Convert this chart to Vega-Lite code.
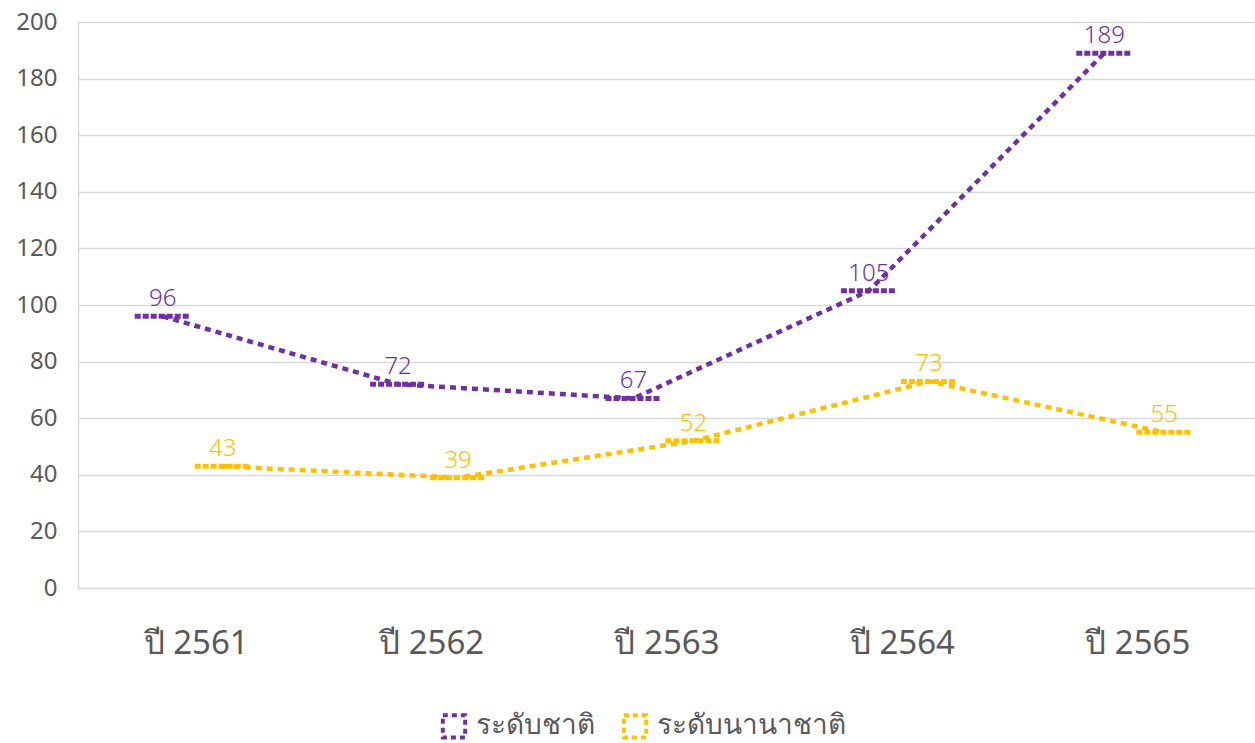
{
  "$schema": "https://vega.github.io/schema/vega-lite/v6.json",
  "width": 1177,
  "height": 566,
  "autosize": "none",
  "padding": {"left": 78, "top": 22, "right": 0, "bottom": 155},
  "config": {
    "view": {"stroke": null},
    "font": "Noto Sans"
  },
  "data": {
    "values": [
      {"year": "ปี 2561", "series": "ระดับชาติ", "value": 96},
      {"year": "ปี 2562", "series": "ระดับชาติ", "value": 72},
      {"year": "ปี 2563", "series": "ระดับชาติ", "value": 67},
      {"year": "ปี 2564", "series": "ระดับชาติ", "value": 105},
      {"year": "ปี 2565", "series": "ระดับชาติ", "value": 189},
      {"year": "ปี 2561", "series": "ระดับนานาชาติ", "value": 43},
      {"year": "ปี 2562", "series": "ระดับนานาชาติ", "value": 39},
      {"year": "ปี 2563", "series": "ระดับนานาชาติ", "value": 52},
      {"year": "ปี 2564", "series": "ระดับนานาชาติ", "value": 73},
      {"year": "ปี 2565", "series": "ระดับนานาชาติ", "value": 55}
    ]
  },
  "encoding": {
    "x": {
      "field": "year", "type": "nominal", "title": null, "sort": null,
      "scale": {"paddingInner": 0, "paddingOuter": 0},
      "axis": {"labelAngle": 0, "labelFontSize": 33, "labelColor": "#595959", "labelPadding": 39, "ticks": false, "domainColor": "#d9d9d9", "domainWidth": 1.5, "grid": false}
    },
    "y": {
      "field": "value", "type": "quantitative", "title": null,
      "scale": {"domain": [0, 200], "nice": false},
      "axis": {"values": [0, 20, 40, 60, 80, 100, 120, 140, 160, 180, 200], "labelFontSize": 24, "labelColor": "#595959", "labelPadding": 21, "ticks": false, "domainColor": "#d9d9d9", "domainWidth": 1.5, "gridColor": "#d9d9d9", "gridWidth": 1.5}
    },
    "color": {
      "field": "series", "type": "nominal", "title": null,
      "scale": {"domain": ["ระดับชาติ", "ระดับนานาชาติ"], "range": ["#7030A0", "#FFC000"]},
      "legend": {"orient": "none", "legendX": 362, "legendY": 690, "direction": "horizontal", "symbolType": "square", "symbolSize": 500, "symbolStrokeWidth": 4, "symbolDash": [5, 4], "symbolFillColor": "transparent", "labelFontSize": 28, "labelColor": "#595959", "labelLimit": 0, "columnPadding": 20, "labelOffset": 8}
    }
  },
  "layer": [
    {
      "transform": [{"filter": "datum.series === 'ระดับชาติ'"}],
      "layer": [
        {"mark": {"type": "line", "xOffset": -33, "strokeWidth": 4.5, "strokeDash": [6, 5]}},
        {"mark": {"type": "point", "xOffset": -33, "shape": "M-1,0L1,0", "size": 3136, "strokeWidth": 5, "strokeDash": [6, 2], "opacity": 1}},
        {"mark": {"type": "text", "xOffset": -33, "dy": -17, "fontSize": 24, "fontWeight": 300, "color": "#7030A0"}, "encoding": {"text": {"field": "value"}, "color": {"value": "#7030A0"}}}
      ]
    },
    {
      "transform": [{"filter": "datum.series === 'ระดับนานาชาติ'"}],
      "layer": [
        {"mark": {"type": "line", "xOffset": 27, "strokeWidth": 4.5, "strokeDash": [6, 5]}},
        {"mark": {"type": "point", "xOffset": 27, "shape": "M-1,0L1,0", "size": 3136, "strokeWidth": 5, "strokeDash": [6, 2], "opacity": 1}},
        {"mark": {"type": "text", "xOffset": 27, "dy": -17, "fontSize": 24, "fontWeight": 300, "color": "#FFC000"}, "encoding": {"text": {"field": "value"}, "color": {"value": "#FFC000"}}}
      ]
    }
  ]
}
